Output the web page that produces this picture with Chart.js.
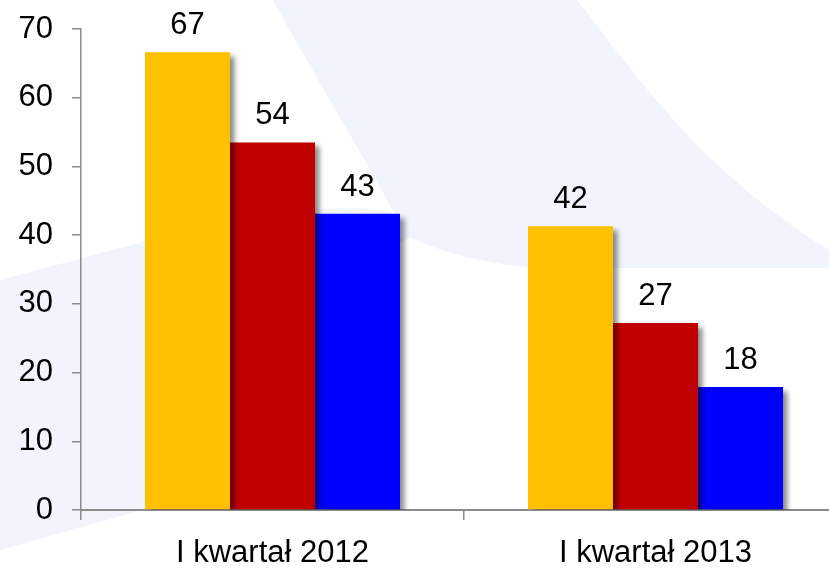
<!DOCTYPE html>
<html>
<head>
<meta charset="utf-8">
<script src="https://cdn.jsdelivr.net/npm/chart.js@4/dist/chart.umd.min.js"></script>
<style>
  html, body { margin: 0; padding: 0; overflow: hidden; background: #ffffff; }
  #wrap { width: 870px; height: 570px; }
</style>
</head>
<body>
<div id="wrap"><canvas id="c" width="870" height="570"></canvas></div>
<script>
// ---- data ----
const categories = ["I kwartał 2012", "I kwartał 2013"];
const seriesA = [66.6, 41.3];   // yellow
const seriesB = [53.5, 27.2];   // red
const seriesC = [43.1, 17.9];   // blue
const labelsA = ["67", "42"];
const labelsB = ["54", "27"];
const labelsC = ["43", "18"];
const yTicks = [0, 10, 20, 30, 40, 50, 60, 70];

const FONT = "'Liberation Sans', Arial, sans-serif";
const AXIS = "#8c8c8c";
const FSIZE = 31;

// decorative background swoosh
const bgPlugin = {
  id: 'bg',
  beforeDraw(chart) {
    const ctx = chart.ctx;
    ctx.save();
    ctx.fillStyle = '#ffffff';
    ctx.fillRect(0, 0, chart.width, chart.height);
    ctx.fillStyle = 'rgb(242,244,253)';
    ctx.beginPath();
    ctx.moveTo(0, 280);
    ctx.lineTo(150, 240);
    ctx.quadraticCurveTo(330, 195, 395, 214);
    ctx.bezierCurveTo(360, 150, 300, 50, 273, 0);
    ctx.lineTo(577, 0);
    ctx.bezierCurveTo(640, 80, 700, 170, 829, 250);
    ctx.lineTo(870, 255);
    ctx.lineTo(870, 268);
    ctx.lineTo(540, 268);
    ctx.quadraticCurveTo(460, 262, 410, 237);
    ctx.quadraticCurveTo(250, 330, 150, 508);
    ctx.lineTo(0, 550);
    ctx.closePath();
    ctx.fill();
    ctx.restore();
  }
};

const shadowPlugin = {
  id: 'shadow',
  beforeDatasetsDraw(chart) {
    const ctx = chart.ctx;
    ctx.save();
    ctx.shadowColor = 'rgba(0,0,0,0.45)';
    ctx.shadowOffsetX = 5;
    ctx.shadowOffsetY = 4;
    ctx.shadowBlur = 5;
  },
  afterDatasetsDraw(chart) {
    chart.ctx.restore();
  }
};

const valueLabels = [labelsA, labelsB, labelsC];
const labelPlugin = {
  id: 'vlabels',
  afterDatasetsDraw(chart) {
    const ctx = chart.ctx;
    ctx.save();
    ctx.font = FSIZE + "px " + FONT;
    ctx.fillStyle = '#000000';
    ctx.textAlign = 'center';
    ctx.textBaseline = 'alphabetic';
    chart.data.datasets.forEach((ds, i) => {
      const meta = chart.getDatasetMeta(i);
      meta.data.forEach((bar, j) => {
        ctx.fillText(valueLabels[i][j], bar.x, bar.y - 18);
      });
    });
    ctx.restore();
  }
};

new Chart(document.getElementById('c'), {
  type: 'bar',
  data: {
    labels: categories,
    datasets: [
      { data: seriesA, backgroundColor: '#FFC000' },
      { data: seriesB, backgroundColor: '#C00000' },
      { data: seriesC, backgroundColor: '#0000FF' }
    ]
  },
  options: {
    responsive: false,
    animation: false,
    devicePixelRatio: 1,
    layout: { padding: { top: 29, right: 23, left: 0, bottom: 0 } },
    plugins: { legend: { display: false }, tooltip: { enabled: false } },
    datasets: { bar: { categoryPercentage: 0.666, barPercentage: 1.0, borderWidth: 0 } },
    scales: {
      x: {
        afterFit(scale) { scale.height = 60; },
        grid: { display: true, drawOnChartArea: false, drawTicks: true, tickLength: 10, color: AXIS, lineWidth: 1.5, offset: true },
        border: { display: true, color: AXIS, width: 2 },
        ticks: { color: '#000000', font: { size: FSIZE, family: FONT }, padding: 15 }
      },
      y: {
        min: 0, max: 70,
        afterFit(scale) { scale.width = 81; },
        afterBuildTicks(scale) { scale.ticks = yTicks.map(v => ({ value: v })); },
        grid: { display: true, drawOnChartArea: false, drawTicks: true, tickLength: 9, color: AXIS, lineWidth: 1.5 },
        border: { display: true, color: AXIS, width: 1.5 },
        ticks: { color: '#000000', font: { size: FSIZE, family: FONT, lineHeight: 0.5 }, padding: 19 }
      }
    }
  },
  plugins: [bgPlugin, shadowPlugin, labelPlugin]
});
</script>
</body>
</html>
